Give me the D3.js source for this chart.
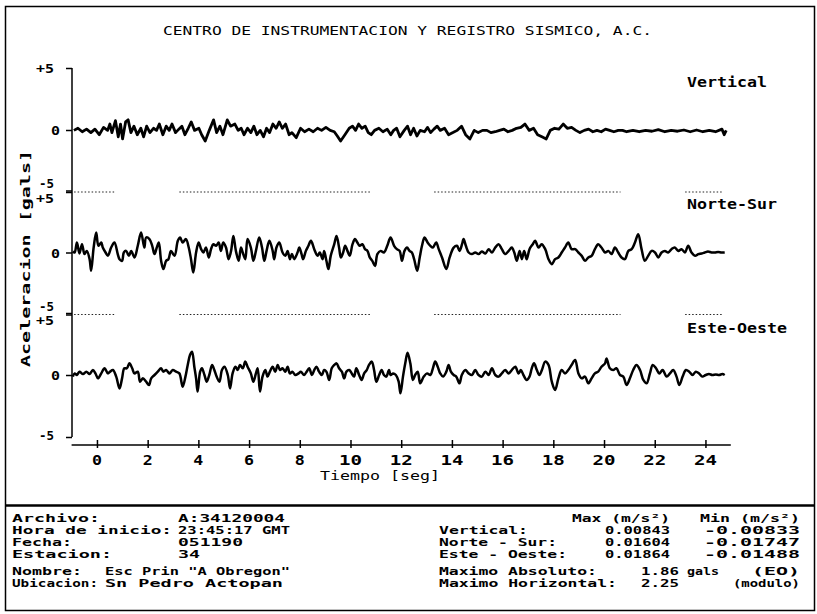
<!DOCTYPE html>
<html>
<head>
<meta charset="utf-8">
<script src="https://cdn.jsdelivr.net/npm/d3@7"></script>
<style>
  body { margin: 0; background: #fff; }
  svg { display: block; }
</style>
</head>
<body>
<svg id="chart" width="817" height="614"></svg>
<script>
// Acelerograma CIRES, estacion 34 — three channels, gals vs seconds.
// Each record is [tiempo (s), aceleracion (gals)].

const timeTicks = [0, 2, 4, 6, 8, 10, 12, 14, 16, 18, 20, 22, 24];
const ampTicks = [-5, 0, 5];

const vertical = [
  [-0.91,-0.03],[-0.75,0.14],[-0.58,-0.14],[-0.41,0.07],[-0.24,-0.21],[-0.08,0.07],[0.09,-0.38],[0.26,0.21],
  [0.42,-0.03],[0.51,0.48],[0.59,-0.21],[0.73,0.75],[0.84,-0.55],[0.93,0.48],[1.01,-0.72],[1.13,0.65],
  [1.23,0.82],[1.34,-0.21],[1.46,0.31],[1.59,-0.38],[1.73,0.14],[1.84,-0.55],[1.96,0.31],[2.09,-0.21],
  [2.23,0.14],[2.35,-0.03],[2.46,0.48],[2.60,-0.38],[2.73,0.31],[2.85,-0.03],[2.96,0.48],[3.10,-0.21],
  [3.23,0.07],[3.35,0.31],[3.47,-0.38],[3.60,0.14],[3.72,0.65],[3.85,-0.03],[4.02,0.14],[4.13,-0.38],
  [4.27,-0.89],[4.43,-0.03],[4.60,0.82],[4.72,-0.21],[4.85,0.31],[4.97,-0.38],[5.14,0.82],[5.27,0.31],
  [5.44,0.48],[5.57,-0.03],[5.69,0.14],[5.80,-0.38],[5.94,0.14],[6.07,-0.21],[6.19,0.31],[6.31,-0.38],
  [6.44,-0.03],[6.57,-0.55],[6.69,0.14],[6.81,-0.21],[6.94,0.48],[7.07,0.14],[7.19,0.65],[7.31,0.14],
  [7.44,0.48],[7.58,-0.38],[7.69,-0.21],[7.86,-0.62],[8.03,0.14],[8.19,-0.14],[8.36,0.07],[8.53,-0.14],
  [8.70,0.14],[8.86,-0.03],[9.03,0.21],[9.20,-0.03],[9.36,-0.14],[9.48,-0.48],[9.61,-0.89],[9.78,-0.38],
  [9.95,0.14],[10.08,0.31],[10.20,-0.03],[10.32,0.48],[10.45,0.14],[10.58,0.31],[10.70,-0.21],[10.82,-0.38],
  [10.95,-0.03],[11.12,0.14],[11.28,-0.14],[11.45,0.07],[11.59,-0.38],[11.70,-0.03],[11.82,0.14],[11.95,-0.55],
  [12.12,-0.03],[12.25,0.31],[12.37,-0.38],[12.49,0.14],[12.62,-0.48],[12.75,-0.03],[12.92,-0.14],[13.04,0.21],
  [13.16,-0.21],[13.29,0.07],[13.42,0.31],[13.54,-0.03],[13.71,0.14],[13.87,-0.38],[14.04,-0.21],[14.21,-0.03],
  [14.38,0.31],[14.54,-0.38],[14.71,-0.72],[14.88,-0.03],[15.04,-0.21],[15.21,-0.03],[15.38,-0.03],[15.54,-0.21],
  [15.71,-0.14],[15.88,-0.03],[16.05,0.07],[16.21,-0.14],[16.38,-0.03],[16.55,0.14],[16.72,0.21],[16.88,0.48],
  [17.05,-0.03],[17.22,0.14],[17.38,-0.38],[17.55,-0.55],[17.72,-0.72],[17.88,-0.03],[18.05,0.14],[18.22,0.07],
  [18.39,0.48],[18.55,0.14],[18.72,0.21],[18.89,-0.03],[19.05,-0.21],[19.22,-0.03],[19.39,0.07],[19.56,-0.14],
  [19.72,-0.03],[19.89,-0.14],[20.06,0.07],[20.22,-0.03],[20.39,-0.14],[20.56,-0.03],[20.73,-0.03],[20.89,-0.14],
  [21.14,-0.03],[21.39,-0.14],[21.64,-0.03],[21.89,-0.10],[22.14,0.03],[22.40,-0.14],[22.65,-0.03],[22.90,-0.10],
  [23.15,0.00],[23.40,-0.14],[23.65,0.00],[23.90,-0.14],[24.15,-0.03],[24.40,-0.14],[24.65,0.07],[24.74,-0.38],
  [24.82,-0.03]
];

const norteSur = [
  [-0.95,0.08],[-0.88,0],[-0.79,0.81],[-0.69,-0.08],[-0.59,0.67],[-0.49,-0.13],[-0.40,0.13],[-0.29,-0.54],
  [-0.23,-1.48],[-0.13,0.40],[-0.03,1.61],[0.06,0.54],[0.17,0.81],[0.23,0.40],[0.34,0],[0.43,-0.27],
  [0.56,0.40],[0.69,0.81],[0.82,-0.13],[0.89,-0.54],[0.99,-0.67],[1.06,0],[1.15,0.13],[1.26,-0.27],
  [1.35,0.13],[1.48,-0.40],[1.61,0.54],[1.74,1.61],[1.87,0.40],[1.94,1.21],[2.07,1.08],[2.18,0.54],
  [2.27,-0.13],[2.36,0.40],[2.44,0.81],[2.53,-0.67],[2.62,-1.34],[2.73,-0.67],[2.82,-0.54],[2.92,0.13],
  [3.06,-0.27],[3.19,0.94],[3.28,1.21],[3.38,0.81],[3.51,1.08],[3.62,0.40],[3.71,-0.54],[3.80,-1.61],
  [3.91,0],[4.01,0.81],[4.11,0.27],[4.20,0],[4.30,0.40],[4.41,-0.40],[4.50,0.27],[4.59,0.67],
  [4.70,0.54],[4.80,0.81],[4.89,0.13],[4.98,0.81],[5.09,0.40],[5.19,-0.54],[5.29,0.13],[5.38,1.34],
  [5.48,0.13],[5.59,-0.67],[5.68,0.40],[5.75,0],[5.85,-0.54],[5.94,1.08],[6.07,0.40],[6.17,-0.67],
  [6.27,0.13],[6.40,1.21],[6.51,0.40],[6.60,-0.67],[6.69,0.13],[6.80,0.94],[6.93,0.13],[6.99,-0.54],
  [7.08,0.40],[7.19,0.81],[7.32,0],[7.43,-0.27],[7.52,0.13],[7.61,-0.54],[7.69,-0.13],[7.78,-0.54],
  [7.91,0],[7.98,0.40],[8.07,-0.13],[8.13,-0.54],[8.24,0.13],[8.34,0.54],[8.44,0.94],[8.57,0.27],
  [8.70,-0.27],[8.79,0],[8.90,-0.54],[8.96,0.13],[9.05,-0.67],[9.13,-1.34],[9.22,-0.27],[9.36,0.67],
  [9.45,1.34],[9.55,0.40],[9.62,-0.40],[9.71,0],[9.79,0.54],[9.88,0.13],[9.97,-0.27],[10.08,0.67],
  [10.18,1.08],[10.27,0.81],[10.36,0.54],[10.47,0.67],[10.57,0.27],[10.67,0.13],[10.76,-0.40],[10.86,-0.67],
  [10.97,-1.08],[11.06,-0.13],[11.19,0.13],[11.32,0],[11.45,0.54],[11.58,1.21],[11.72,0.54],[11.83,0.27],
  [11.94,0.13],[12.03,-0.67],[12.13,0.13],[12.23,0.40],[12.33,0.13],[12.42,0],[12.51,-0.54],[12.63,-1.48],
  [12.73,-0.40],[12.82,0.54],[12.92,1.21],[13.04,0.81],[13.15,0.54],[13.25,0.40],[13.38,0.81],[13.48,0.27],
  [13.61,-0.40],[13.78,-1.34],[13.91,-0.40],[14.07,0.40],[14.20,0.54],[14.30,0.13],[14.40,0.67],[14.46,1.08],
  [14.55,0.54],[14.66,0],[14.79,-0.13],[14.92,0],[15.05,-0.13],[15.18,0.08],[15.32,-0.08],[15.45,0.27],
  [15.58,0],[15.71,0.40],[15.84,0.67],[15.97,0.27],[16.10,-0.13],[16.24,0.13],[16.36,0.40],[16.46,0],
  [16.56,-0.67],[16.67,0.13],[16.76,-0.54],[16.85,0.13],[16.95,-0.54],[17.06,0.27],[17.19,0.67],[17.28,0.94],
  [17.42,0.40],[17.54,0.67],[17.68,0.27],[17.81,-0.54],[17.94,-0.94],[18.07,-0.54],[18.20,-0.40],[18.33,0],
  [18.46,0.40],[18.59,0.81],[18.72,0.27],[18.86,0.27],[18.99,0],[19.12,-0.27],[19.25,-0.67],[19.38,-0.40],
  [19.51,-0.27],[19.64,0.27],[19.77,0.67],[19.90,0.40],[20.04,0],[20.17,0.13],[20.30,-0.13],[20.43,0.40],
  [20.56,0],[20.69,-0.40],[20.82,-0.54],[20.96,0.13],[21.09,0.27],[21.22,0.81],[21.35,1.48],[21.48,0.27],
  [21.61,-0.67],[21.74,-0.27],[21.88,0.13],[22.01,0],[22.14,-0.40],[22.27,0],[22.40,0.13],[22.53,0],
  [22.66,0.27],[22.79,0.40],[22.93,0.13],[23.06,0.27],[23.19,0],[23.32,0.54],[23.45,0],[23.59,-0.27],
  [23.72,-0.13],[23.84,-0.08],[23.97,0],[24.10,0.08],[24.24,0],[24.37,0],[24.50,0.05],[24.63,0],
  [24.76,0]
];

const esteOeste = [
  [-0.95,-0.13],[-0.88,0.13],[-0.79,0],[-0.69,0.27],[-0.55,0.08],[-0.42,0.27],[-0.29,0.08],[-0.16,0.40],
  [-0.06,0.13],[0.04,-0.27],[0.17,0.13],[0.30,0.54],[0.43,0.13],[0.52,0.27],[0.63,0.40],[0.76,-0.13],
  [0.89,-1.08],[0.99,-0.27],[1.08,0.54],[1.18,0.54],[1.28,0.94],[1.39,0.54],[1.48,0.13],[1.61,0.27],
  [1.70,-0.54],[1.81,-0.27],[1.94,-0.54],[2.05,-0.81],[2.14,-0.27],[2.27,0],[2.40,0.27],[2.53,0.54],
  [2.62,0.27],[2.73,0.40],[2.86,0.13],[2.99,0.40],[3.12,0.27],[3.25,0.13],[3.38,-0.94],[3.49,-0.13],
  [3.58,0.81],[3.67,1.61],[3.75,1.88],[3.84,0.67],[3.91,-0.27],[3.97,-1.34],[4.07,0.27],[4.14,0.54],
  [4.24,0],[4.33,-0.54],[4.43,0],[4.54,0.81],[4.63,0.40],[4.72,-0.13],[4.83,-0.54],[4.93,0.40],
  [5.03,0.67],[5.16,0],[5.25,-1.08],[5.35,0.13],[5.46,0.67],[5.55,0.40],[5.64,0.81],[5.75,0.54],
  [5.85,1.08],[5.94,0.67],[6.07,0.13],[6.17,-0.54],[6.27,0.13],[6.34,0.54],[6.43,-1.34],[6.53,-0.13],
  [6.64,0.40],[6.73,-0.13],[6.82,0.27],[6.93,0.67],[7.03,0.27],[7.13,0.81],[7.22,0.40],[7.32,0.54],
  [7.43,0.27],[7.52,0.67],[7.61,0.13],[7.71,0.27],[7.82,0],[7.95,0.13],[8.04,0.27],[8.17,0],
  [8.27,0.27],[8.37,0.54],[8.48,0],[8.57,0.40],[8.66,0.67],[8.76,0.27],[8.87,0],[8.96,0.40],
  [9.05,0.27],[9.16,-0.40],[9.26,0.54],[9.36,0.81],[9.45,0.94],[9.55,0.54],[9.66,0.27],[9.75,-0.27],
  [9.84,0.27],[9.95,0.40],[10.05,0.13],[10.14,-0.13],[10.23,0.54],[10.34,0],[10.44,-0.40],[10.54,0.13],
  [10.64,0.40],[10.73,0.81],[10.84,1.08],[10.93,0.40],[11.02,-0.54],[11.13,0],[11.23,0.40],[11.32,0],
  [11.41,-0.13],[11.52,0.40],[11.58,0],[11.68,0.13],[11.79,0],[11.90,-0.54],[11.97,-1.48],[12.07,-0.13],
  [12.16,0.94],[12.25,1.80],[12.36,0.94],[12.46,-0.40],[12.55,0],[12.65,0.27],[12.75,-0.67],[12.89,-0.13],
  [13.02,0.13],[13.15,0],[13.25,0.54],[13.34,1.08],[13.44,0.67],[13.54,0.13],[13.65,-0.13],[13.78,0.27],
  [13.87,0.81],[13.96,0.27],[14.07,0],[14.17,-0.13],[14.30,-0.67],[14.39,0],[14.53,0.40],[14.66,0.13],
  [14.79,0],[14.92,0.40],[15.05,0],[15.18,-0.13],[15.32,0.27],[15.45,0],[15.58,0.54],[15.71,0],
  [15.84,-0.13],[15.97,0.13],[16.10,0.40],[16.24,0.13],[16.36,0.40],[16.50,0.67],[16.63,0.13],[16.72,0.40],
  [16.82,0],[16.95,-0.40],[17.06,-0.13],[17.15,0.54],[17.24,0.94],[17.35,0.40],[17.45,0],[17.55,0.40],
  [17.68,1.08],[17.81,0.81],[17.94,-0.54],[18.07,-1.21],[18.20,-0.27],[18.33,0.40],[18.46,0.13],[18.59,0.40],
  [18.72,0.81],[18.86,1.21],[18.99,0.13],[19.12,-0.27],[19.25,-0.13],[19.38,-0.67],[19.51,-0.27],[19.64,0.13],
  [19.77,0.27],[19.90,0.67],[20.04,0.94],[20.10,1.34],[20.23,0.54],[20.36,0.40],[20.49,0.54],[20.63,0],
  [20.76,-0.13],[20.89,-0.81],[21.02,-0.27],[21.15,0.40],[21.28,0.81],[21.42,0.40],[21.55,-0.40],[21.68,-0.67],
  [21.81,0.13],[21.92,0.81],[22.05,0.54],[22.18,0.13],[22.31,0.40],[22.47,-0.13],[22.60,0.13],[22.73,0.40],
  [22.86,-0.13],[22.97,-0.81],[23.10,-0.13],[23.23,0.40],[23.36,0.27],[23.49,0],[23.62,0.27],[23.75,0.13],
  [23.88,-0.13],[24.01,0],[24.14,0.08],[24.27,0],[24.41,0.05],[24.54,0],[24.67,0.08],[24.76,0]
];

// Dotted pieces of the -5/+5 boundary between channels (seconds).
const boundarySegments = [[-0.9, 0.7], [3.25, 10.8], [13.3, 20.65], [23.2, 24.7]];

const channelNames = ['Vertical', 'Norte-Sur', 'Este-Oeste'];
const channelData = [vertical, norteSur, esteOeste];

const infoLabels = ['Archivo:', 'Hora de inicio:', 'Fecha:', 'Estacion:', 'Nombre:', 'Ubicacion:'];
const infoValues = ['A:34120004', '23:45:17 GMT', '051190', '34', 'Esc Prin "A Obregon"', 'Sn Pedro Actopan'];
const peakLabels = ['Vertical:', 'Norte - Sur:', 'Este - Oeste:'];
const peakMax = ['0.00843', '0.01604', '0.01864'];
const peakMin = ['-0.00833', '-0.01747', '-0.01488'];

// ---------------------------------------------------------------------------

const MONO = '"DejaVu Sans Mono", "Liberation Mono", monospace';
const svg = d3.select('#chart');

function txt(g, x, y, str, o = {}) {
  const t = g.append('text')
    .attr('x', x).attr('y', y)
    .attr('font-family', MONO)
    .attr('font-size', o.size || 10.2)
    .attr('font-weight', o.weight || 'bold')
    .attr('text-anchor', o.anchor || 'start')
    .attr('fill', '#000')
    .text(str);
  if (o.w) t.attr('textLength', o.w).attr('lengthAdjust', 'spacingAndGlyphs');
  return t;
}

// frame + separator between plot and the station block
svg.append('rect')
  .attr('x', 5.5).attr('y', 6.5).attr('width', 809).attr('height', 604)
  .attr('fill', 'none').attr('stroke', '#000').attr('stroke-width', 1.5);
svg.append('line')
  .attr('x1', 5).attr('x2', 815).attr('y1', 505.5).attr('y2', 505.5)
  .attr('stroke', '#000').attr('stroke-width', 2.5);

txt(svg, 407.5, 35, 'CENTRO DE INSTRUMENTACION Y REGISTRO SISMICO, A.C.',
  { anchor: 'middle', weight: 'normal', size: 13, w: 489 });

const x = d3.scaleLinear().domain([-1, 25]).range([71.6, 730.8]);

// one y scale per channel, panels stacked with a shared +5/-5 boundary
const zeros = [130, 252.5, 375];
const half = 62;
const yScales = zeros.map(z => d3.scaleLinear().domain([-5, 5]).range([z + half, z - half]));

const plot = svg.append('g');

// y axis: single spine with short left ticks per panel
plot.append('line')
  .attr('x1', 72).attr('x2', 72).attr('y1', yScales[0](5)).attr('y2', yScales[2](-5))
  .attr('stroke', '#000').attr('stroke-width', 1.5);

yScales.forEach((y, i) => {
  const ax = plot.append('g')
    .attr('transform', 'translate(72,0)')
    .call(d3.axisLeft(y).tickValues(ampTicks).tickSize(6).tickFormat(''));
  ax.select('.domain').remove();
  ax.selectAll('.tick line').attr('stroke-width', 1.5);

  // tick labels: stacked -5 / +5 at panel joins
  const top = i === 0;
  const bottom = i === 2;
  txt(plot, 54, y(5) + (top ? 5 : 12), '+5', { anchor: 'end', size: 12, w: 18 });
  txt(plot, 60, y(0) + 5, '0', { anchor: 'end', size: 13, w: 9 });
  txt(plot, 54, y(-5) + (bottom ? 3 : -4), '-5', { anchor: 'end', size: 12, w: 15 });
});

// dotted boundary pieces at -5 of the upper two panels
[0, 1].forEach(i => {
  const yb = yScales[i](-5);
  plot.append('g').selectAll('line')
    .data(boundarySegments)
    .join('line')
    .attr('x1', d => x(d[0])).attr('x2', d => x(d[1]))
    .attr('y1', yb).attr('y2', yb)
    .attr('stroke', '#222').attr('stroke-width', 1.2)
    .attr('stroke-dasharray', '1.5,2');
});

// traces — the vertical record is jittery, the horizontals oscillate smoothly
const labelBase = [87, 209, 333];
const labelW = [80, 90, 100];
channelData.forEach((data, i) => {
  const y = yScales[i];
  const line = d3.line()
    .x(d => x(d[0])).y(d => y(d[1]))
    .curve(i === 0 ? d3.curveLinear : d3.curveCatmullRom.alpha(0.5));
  plot.append('path')
    .datum(data)
    .attr('d', line)
    .attr('fill', 'none')
    .attr('stroke', '#000')
    .attr('stroke-width', i === 0 ? 2.8 : 2.5)
    .attr('stroke-linejoin', 'round');
  txt(plot, 687, labelBase[i], channelNames[i], { size: 14, w: labelW[i] });
});

// x axis with ticks crossing the line
const xAxis = plot.append('g')
  .attr('transform', 'translate(0,445)')
  .call(d3.axisBottom(x).tickValues(timeTicks).tickSize(0).tickFormat(''));
xAxis.select('.domain')
  .attr('d', `M${x(-1)},0H${x(25)}`)
  .attr('stroke-width', 1.5);
xAxis.selectAll('.tick').append('line')
  .attr('y1', -5).attr('y2', 3)
  .attr('stroke', '#000').attr('stroke-width', 1.5);
timeTicks.forEach(t => {
  const s = String(t);
  txt(plot, x(t), 465, s, { anchor: 'middle', size: 14, w: s.length === 1 ? 10 : 23 });
});
txt(plot, 380, 480, 'Tiempo [seg]', { anchor: 'middle', weight: 'normal', size: 12, w: 120 });

txt(plot, 0, 0, 'Aceleracion [gals]', { anchor: 'middle', size: 12.5, w: 217 })
  .attr('transform', 'translate(30,258.5) rotate(-90)');

// station block
const rowY = [522, 534, 546, 558, 575, 587];
const labelWidths = [88, 160, 60, 100, 70, 86];
const valueWidths = [107, 112, 65, 22, 185, 178];
const info = svg.append('g');
infoLabels.forEach((s, i) => {
  txt(info, 12, rowY[i], s, { w: labelWidths[i] });
  txt(info, i < 4 ? 178 : 105, rowY[i], infoValues[i], { w: valueWidths[i] });
});

txt(info, 572, rowY[0], 'Max (m/s²)', { w: 98 });
txt(info, 700, rowY[0], 'Min (m/s²)', { w: 100 });
const peakLabelW = [89, 118, 128];
peakLabels.forEach((s, i) => {
  txt(info, 439, rowY[i + 1], s, { w: peakLabelW[i] });
  txt(info, 670, rowY[i + 1], peakMax[i], { anchor: 'end', w: 65 });
  txt(info, 800, rowY[i + 1], peakMin[i], { anchor: 'end', w: 96 });
});
txt(info, 439, rowY[4], 'Maximo Absoluto:', { w: 158 });
txt(info, 641, rowY[4], '1.86', { w: 38 });
txt(info, 687, rowY[4], 'gals', { w: 32 });
txt(info, 752, rowY[4], '(EO)', { w: 48 });
txt(info, 439, rowY[5], 'Maximo Horizontal:', { w: 178 });
txt(info, 641, rowY[5], '2.25', { w: 38 });
txt(info, 733, rowY[5], '(modulo)', { w: 67 });
</script>
</body>
</html>
